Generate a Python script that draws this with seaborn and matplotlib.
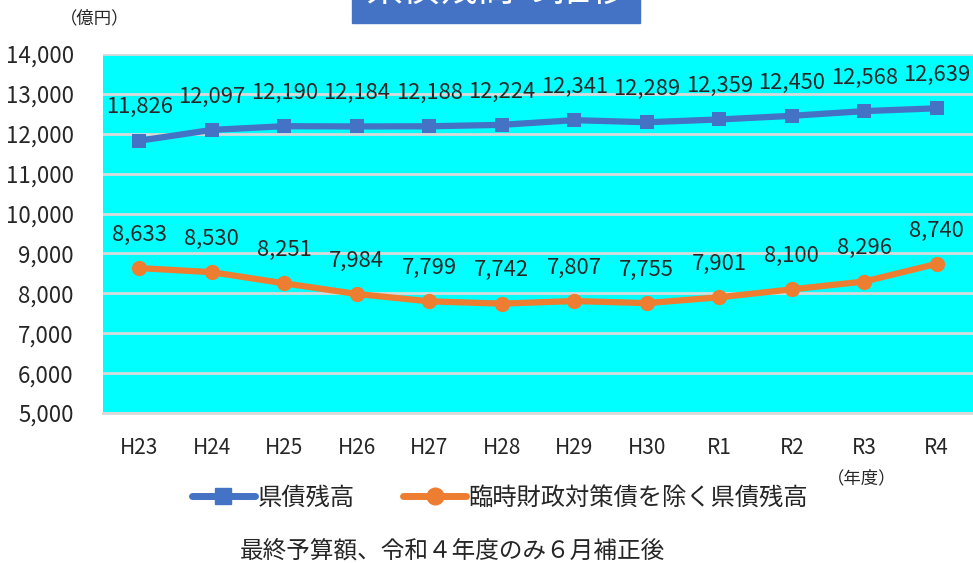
import matplotlib
matplotlib.use('Agg')
import matplotlib.pyplot as plt
import seaborn as sns
import pandas as pd
from matplotlib.lines import Line2D
from matplotlib.patches import Rectangle

# data (億円)
years = ['H23', 'H24', 'H25', 'H26', 'H27', 'H28', 'H29', 'H30', 'R1', 'R2', 'R3', 'R4']
total_debt = [11826, 12097, 12190, 12184, 12188, 12224, 12341, 12289, 12359, 12450, 12568, 12639]
debt_excl = [8633, 8530, 8251, 7984, 7799, 7742, 7807, 7755, 7901, 8100, 8296, 8740]
series_names = ['県債残高', '臨時財政対策債を除く県債残高']
yticks = list(range(5000, 14001, 1000))

BLUE = '#4472C4'
ORANGE = '#ED7D31'
JP = 'Noto Sans CJK JP'

sns.set_style('white')
plt.rcParams['font.family'] = [JP, 'DejaVu Sans']

fig = plt.figure(figsize=(9.73, 5.63), dpi=100)
ax = fig.add_axes([103 / 973, 1 - 413 / 563, 1 - 103 / 973, (413 - 54) / 563])
ax.set_facecolor('#00FFFF')

df = pd.DataFrame({'year': years, 'total': total_debt, 'excl': debt_excl})
sns.lineplot(data=df, x='year', y='total', ax=ax, color=BLUE, lw=4.5,
             marker='s', markersize=10, markeredgewidth=0, sort=False)
sns.lineplot(data=df, x='year', y='excl', ax=ax, color=ORANGE, lw=4.5,
             marker='o', markersize=11, markeredgewidth=0, sort=False)

for i, y in enumerate(total_debt):
    ax.annotate(f'{y:,}', (i, y), xytext=(0, 24), textcoords='offset points',
                ha='center', va='center', fontsize=15.8)
for i, y in enumerate(debt_excl):
    ax.annotate(f'{y:,}', (i, y), xytext=(0, 24), textcoords='offset points',
                ha='center', va='center', fontsize=15.8)

ax.set_xlim(-0.5, len(years) - 0.5)
ax.set_ylim(5000, 14000)
ax.set_yticks(yticks)
ax.set_yticklabels([f'{t:,}' for t in yticks], fontsize=16)
ax.tick_params(axis='x', labelsize=15, pad=17, length=0)
ax.tick_params(axis='y', pad=21, length=0)
ax.grid(axis='y', color='#D9D9D9', lw=2)
ax.set_axisbelow(True)
ax.set_xlabel('')
ax.set_ylabel('')
for s in ['top', 'right', 'left']:
    ax.spines[s].set_visible(False)
ax.spines['bottom'].set_color('#D9D9D9')
ax.spines['bottom'].set_linewidth(2)

# title box (cut off at top, as in the source image)
fig.patches.append(Rectangle((352 / 973, 1 - 23 / 563), (640 - 352) / 973, 30 / 563,
                             transform=fig.transFigure, color=BLUE, zorder=0))
fig.text(496 / 973, 1 + 9 / 563, '県債残高の推移', color='white', fontsize=27,
         ha='center', va='center')

fig.text(95 / 973, 1 - 18 / 563, '（億円）', ha='center', va='center', fontsize=12.5)
fig.text(862 / 973, 1 - 478 / 563, '（年度）', ha='center', va='center', fontsize=12.5)

handles = [Line2D([], [], color=BLUE, lw=5, marker='s', markersize=11),
           Line2D([], [], color=ORANGE, lw=5, marker='o', markersize=12)]
fig.legend(handles, series_names, loc='center', bbox_to_anchor=(500 / 973, 1 - 498 / 563),
           ncol=2, frameon=False, fontsize=17.5, handlelength=2.6, handletextpad=0.1,
           columnspacing=2.0)

fig.text(452 / 973, 1 - 551 / 563, '最終予算額、令和４年度のみ６月補正後',
         ha='center', va='center', fontsize=17)

fig.savefig('out.png', dpi=100)
